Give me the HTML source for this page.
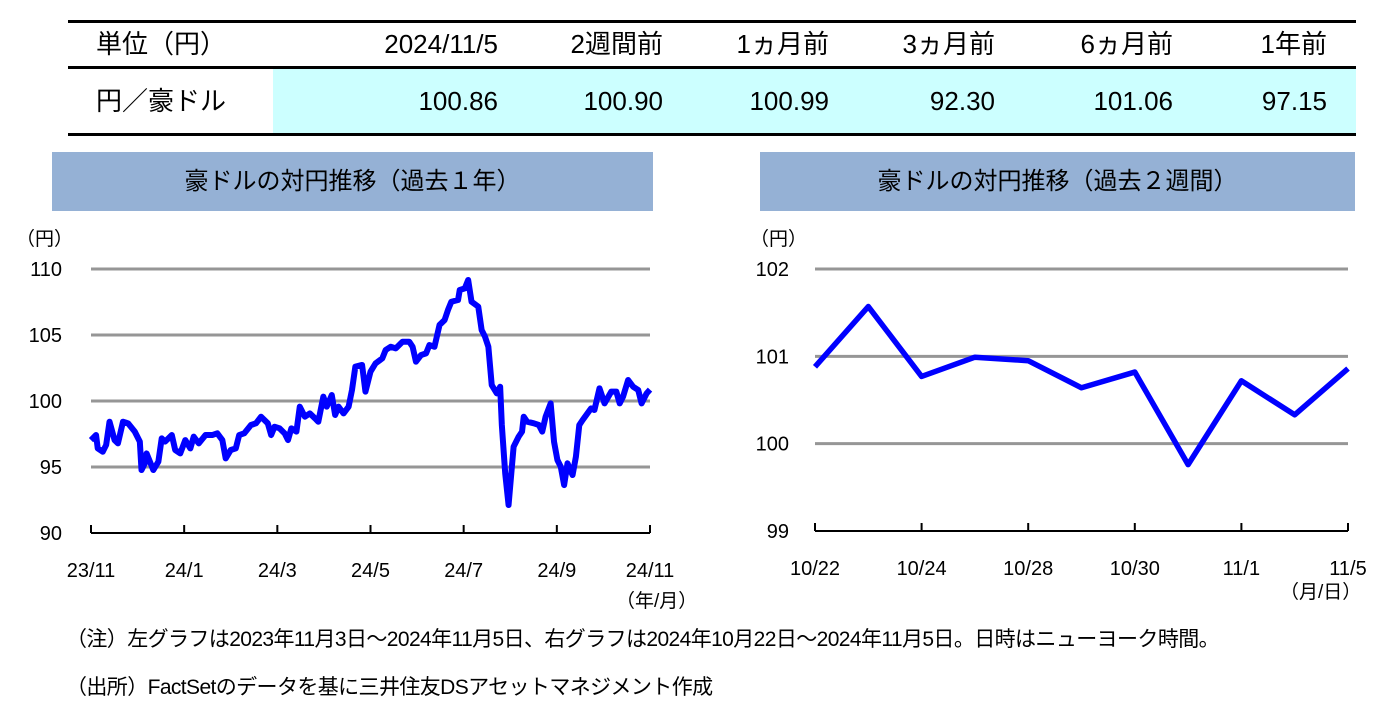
<!DOCTYPE html>
<html><head><meta charset="utf-8"><style>
body{margin:0;width:1390px;height:715px;background:#fff;font-family:"Liberation Sans","Noto Sans CJK JP",sans-serif;color:#000;position:relative;overflow:hidden}
.a{position:absolute;white-space:nowrap}
.ln{position:absolute;left:68px;width:1288px;height:3px;background:#000}
.hd{position:absolute;top:152px;height:59px;background:#95b1d5;font-size:24px;line-height:59px;text-align:center}
.c{font-size:26px;top:29px;line-height:30px;height:30px}
.r{text-align:right}
</style></head><body>
<div class="ln" style="top:20px"></div>
<div class="ln" style="top:66px"></div>
<div class="ln" style="top:133px"></div>
<div class="a" style="left:273px;top:69px;width:1083px;height:64px;background:#ccffff"></div>
<div class="a c" style="left:96px">単位（円）</div>
<div class="a c" style="left:96px;top:86px">円／豪ドル</div>
<div id="tbl"></div>
<div class="hd" style="left:52px;width:601px">豪ドルの対円推移（過去１年）</div>
<div class="hd" style="left:760px;width:595px">豪ドルの対円推移（過去２週間）</div>
<svg id="chart" width="1390" height="715" style="position:absolute;left:0;top:0" font-family="Liberation Sans, Noto Sans CJK JP, sans-serif"></svg>
<div class="a" style="left:66px;top:623px;font-size:21px;letter-spacing:-0.6px">（注）左グラフは2023年11月3日～2024年11月5日、右グラフは2024年10月22日～2024年11月5日。日時はニューヨーク時間。</div>
<div class="a" style="left:66px;top:671px;font-size:21px;letter-spacing:-0.6px">（出所）FactSetのデータを基に三井住友DSアセットマネジメント作成</div>
<script>
const colHeads=["2024/11/5","2週間前","1ヵ月前","3ヵ月前","6ヵ月前","1年前"];
const colVals=["100.86","100.90","100.99","92.30","101.06","97.15"];
const colRight=[498,663,829,995,1173,1327];
const tbl=document.getElementById('tbl');
colHeads.forEach((h,i)=>{
 const d=document.createElement('div');d.className='a c r';d.style.right=(1390-colRight[i])+'px';d.textContent=h;
 
 
 tbl.appendChild(d);
 const v=document.createElement('div');v.className='a c r';v.style.right=(1390-colRight[i])+'px';v.style.top='86px';v.textContent=colVals[i];
 
 
 tbl.appendChild(v);
});

// left chart data
const yDays=[0,3,4,7,9,11,14,16,19,22,26,29,30,32,33,37,40,42,44,48,50,53,56,59,61,64,68,72,75,78,80,83,86,88,91,95,98,101,105,107,109,112,115,117,119,122,124,127,130,133,135,138,140,143,145,147,150,153,155,157,161,163,166,169,173,175,178,181,185,189,191,193,196,199,201,204,207,210,212,214,218,219,222,224,226,230,232,234,236,238,241,243,244,246,248,251,254,256,257,259,263,266,268,270,273,275,277,279,281,283,286,288,290,292,297,299,302,305,309,312,314,316,319,322,325,327,330,332];
const yVals=[97.04,97.42,96.41,96.16,96.67,98.43,97.04,96.79,98.43,98.31,97.68,96.92,94.77,95.28,96.03,94.77,95.40,97.17,96.92,97.42,96.29,96.03,97.04,96.41,97.30,96.79,97.42,97.42,97.55,97.04,95.65,96.29,96.41,97.42,97.55,98.18,98.31,98.81,98.31,97.42,98.05,97.93,97.55,97.04,97.93,97.68,99.57,98.81,99.06,98.69,98.43,100.33,99.57,100.45,98.94,99.57,99.06,99.57,100.83,102.60,102.73,100.71,102.22,102.85,103.23,103.86,104.11,103.99,104.49,104.49,104.11,102.98,103.48,103.61,104.24,104.11,105.76,106.13,106.89,107.52,107.65,108.41,108.53,109.17,107.52,107.15,105.38,104.87,104.11,101.21,100.58,101.08,98.18,94.52,92.12,96.54,97.30,97.68,98.81,98.43,98.31,98.18,97.68,98.81,99.82,96.92,95.53,95.02,93.63,95.28,94.39,95.78,98.18,98.56,99.44,99.32,100.96,99.82,100.71,100.71,99.82,100.33,101.59,101.08,100.83,99.82,100.58,100.86];
const yTicks=[90,95,100,105,110];
const xTickLabels=["23/11","24/1","24/3","24/5","24/7","24/9","24/11"];
// right chart data
const wLabels=["10/22","10/23","10/24","10/25","10/28","10/29","10/30","10/31","11/1","11/4","11/5"];
const wVals=[100.88,101.57,100.77,100.99,100.95,100.64,100.82,99.76,100.72,100.33,100.86];
const wTicks=[99,100,101,102];
const wTickLabels=["10/22","10/24","10/28","10/30","11/1","11/5"];

const svg=document.getElementById('chart');
const NS='http://www.w3.org/2000/svg';
function mk(t,a,txt){const e=document.createElementNS(NS,t);for(const k in a)e.setAttribute(k,a[k]);if(txt!=null)e.textContent=txt;svg.appendChild(e);return e;}

// left axes
const L={x0:91,x1:650,y0:533,y1:269,vmin:90,vmax:110,dmax:332};
const lx=d=>L.x0+(d/L.dmax)*(L.x1-L.x0);
const ly=v=>L.y0-(v-L.vmin)/(L.vmax-L.vmin)*(L.y0-L.y1);
yTicks.forEach(t=>{
 if(t>L.vmin){const g=mk('line',{x1:L.x0,x2:L.x1,y1:ly(t),y2:ly(t),stroke:'#969696','stroke-width':3});
 
 }
 const tx=mk('text',{x:62,y:ly(t)+7,'font-size':20,'text-anchor':'end'},t);
 
 
});
let ax=mk('line',{x1:L.x0,x2:L.x1,y1:L.y0,y2:L.y0,stroke:'#000','stroke-width':2});


xTickLabels.forEach((s,i)=>{
 const x=L.x0+i*(L.x1-L.x0)/(xTickLabels.length-1);
 const tk=mk('line',{x1:x,x2:x,y1:L.y0-8,y2:L.y0,stroke:'#000','stroke-width':2});
 
 
 const tx=mk('text',{x:x,y:577,'font-size':20,'text-anchor':'middle'},s);
 
 
});
let u=mk('text',{x:16,y:245,'font-size':19},'（円）');


u=mk('text',{x:616,y:607,'font-size':19},'（年/月）');


let p=mk('polyline',{points:yDays.map((d,i)=>lx(d)+','+ly(yVals[i])).join(' '),fill:'none',stroke:'#0000ff','stroke-width':6,'stroke-linejoin':'round'});



// right axes
const R={x0:815,x1:1348,y0:531,y1:269,vmin:99,vmax:102};
const rx=i=>R.x0+i*(R.x1-R.x0)/(wLabels.length-1);
const ry=v=>R.y0-(v-R.vmin)/(R.vmax-R.vmin)*(R.y0-R.y1);
wTicks.forEach(t=>{
 if(t>R.vmin){const g=mk('line',{x1:R.x0,x2:R.x1,y1:ry(t),y2:ry(t),stroke:'#969696','stroke-width':3});
 
 }
 const tx=mk('text',{x:789,y:ry(t)+7,'font-size':20,'text-anchor':'end'},t);
 
 
});
ax=mk('line',{x1:R.x0,x2:R.x1,y1:R.y0,y2:R.y0,stroke:'#000','stroke-width':2});


wTickLabels.forEach(s=>{
 const x=rx(wLabels.indexOf(s));
 const tk=mk('line',{x1:x,x2:x,y1:R.y0-8,y2:R.y0,stroke:'#000','stroke-width':2});
 
 
 const tx=mk('text',{x:x,y:575,'font-size':20,'text-anchor':'middle'},s);
 
 
});
u=mk('text',{x:750,y:245,'font-size':19},'（円）');


u=mk('text',{x:1280,y:598,'font-size':19},'（月/日）');


p=mk('polyline',{points:wVals.map((v,i)=>rx(i)+','+ry(v)).join(' '),fill:'none',stroke:'#0000ff','stroke-width':5.5,'stroke-linejoin':'round'});


</script>
</body></html>
